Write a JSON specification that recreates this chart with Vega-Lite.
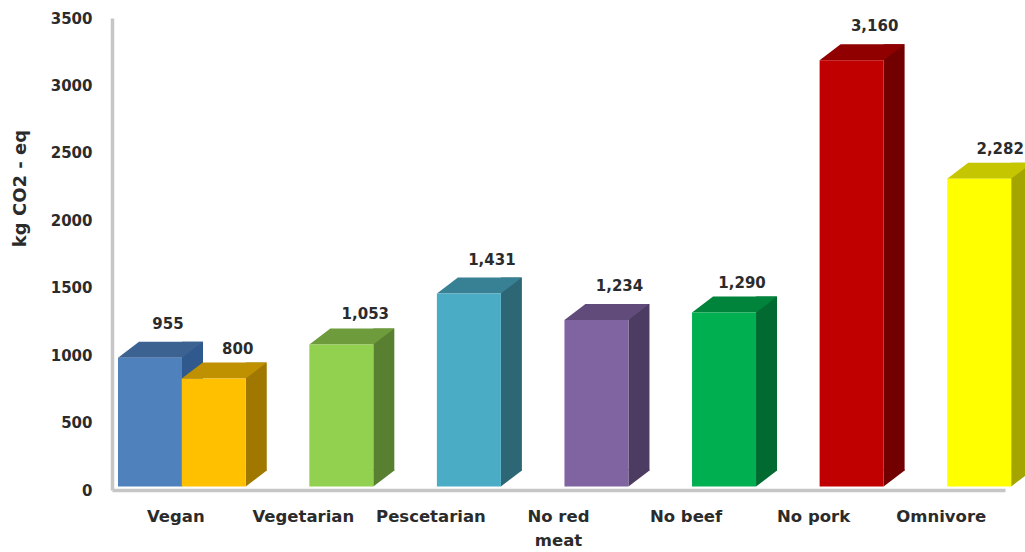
{
  "$schema": "https://vega.github.io/schema/vega-lite/v6.json",
  "autosize": "none",
  "width": 893,
  "height": 472,
  "padding": {"left": 112, "top": 18, "right": 20, "bottom": 62},
  "background": "white",
  "config": {
    "view": {"stroke": null},
    "axis": {"grid": false, "ticks": false, "domainColor": "#c6c6c6", "domainWidth": 3.5, "labelColor": "#2b2b2b", "titleColor": "#2b2b2b", "labelFont": "DejaVu Sans", "titleFont": "DejaVu Sans"}
  },
  "datasets": {
    "bars": [
      {"diet": "Vegan", "group": "Vegan", "series": "A", "sideSlot": "A side", "value": 955},
      {"diet": "Vegan B", "group": "Vegan", "series": "B", "sideSlot": "B side", "value": 800},
      {"diet": "Vegetarian", "group": "Vegetarian", "series": "B", "sideSlot": "B side", "value": 1053},
      {"diet": "Pescetarian", "group": "Pescetarian", "series": "B", "sideSlot": "B side", "value": 1431},
      {"diet": "No red meat", "group": "No red meat", "series": "B", "sideSlot": "B side", "value": 1234},
      {"diet": "No beef", "group": "No beef", "series": "B", "sideSlot": "B side", "value": 1290},
      {"diet": "No pork", "group": "No pork", "series": "B", "sideSlot": "B side", "value": 3160},
      {"diet": "Omnivore", "group": "Omnivore", "series": "B", "sideSlot": "B side", "value": 2282}
    ]
  },
  "data": {"name": "bars"},
  "encoding": {
    "x": {
      "field": "group", "type": "nominal",
      "scale": {"domain": ["Vegan", "Vegetarian", "Pescetarian", "No red meat", "No beef", "No pork", "Omnivore"], "paddingInner": 0, "paddingOuter": 0},
      "axis": {"title": null, "labelAngle": 0, "labelFontSize": 16.5, "labelFontWeight": "bold", "labelPadding": 18, "labelLineHeight": 24, "labelExpr": "datum.label == 'No red meat' ? ['No red', 'meat'] : datum.label", "labelLimit": 200}
    },
    "xOffset": {"field": "series", "type": "nominal", "scale": {"domain": ["A", "slot1", "A side", "B", "slot2", "B side"], "range": [27.375, 154.875], "paddingInner": 0, "paddingOuter": 0}},
    "y": {
      "field": "value", "type": "quantitative",
      "scale": {"domain": [0, 3500], "nice": false},
      "axis": {"title": "kg CO2 - eq", "values": [0, 500, 1000, 1500, 2000, 2500, 3000, 3500], "format": "d", "labelFontSize": 15, "labelFontWeight": "bold", "labelPadding": 20, "titleFontSize": 18, "titleFontWeight": "bold", "titleX": -83, "titleY": 170}
    }
  },
  "layer": [
    {
      "mark": {"type": "bar", "width": 21, "yOffset": -19.5},
      "encoding": {
        "xOffset": {"field": "sideSlot", "type": "nominal", "scale": {"domain": ["A", "slot1", "A side", "B", "slot2", "B side"], "range": [27.375, 154.875], "paddingInner": 0, "paddingOuter": 0}},
        "color": {"field": "diet", "type": "nominal", "legend": null, "scale": {"domain": ["Vegan", "Vegan B", "Vegetarian", "Pescetarian", "No red meat", "No beef", "No pork", "Omnivore"], "range": ["#305a8e", "#a07800", "#588030", "#2d6776", "#4d3c61", "#006a30", "#730000", "#a5a500"]}}
      }
    },
    {
      "mark": {"type": "point", "filled": true, "opacity": 1, "size": 4, "yOffset": -3.5, "shape": "M32 0 L53 -16 L53 -17 L32 -17 Z"},
      "encoding": {
        "y": {"datum": 0},
        "color": {"field": "diet", "type": "nominal", "legend": null, "scale": {"domain": ["Vegan", "Vegan B", "Vegetarian", "Pescetarian", "No red meat", "No beef", "No pork", "Omnivore"], "range": ["#305a8e", "#a07800", "#588030", "#2d6776", "#4d3c61", "#006a30", "#730000", "#a5a500"]}}
      }
    },
    {
      "mark": {"type": "point", "filled": true, "opacity": 1, "size": 4, "yOffset": -3.5, "shape": "M-32 0 L32 0 L53 -16 L-11 -16 Z"},
      "encoding": {"color": {"field": "diet", "type": "nominal", "legend": null, "scale": {"domain": ["Vegan", "Vegan B", "Vegetarian", "Pescetarian", "No red meat", "No beef", "No pork", "Omnivore"], "range": ["#3c6292", "#bf9000", "#6e9c3c", "#388194", "#604b7a", "#00843c", "#900000", "#c6c600"]}}}
    },
    {
      "mark": {"type": "bar", "width": 64, "yOffset": -3.5},
      "encoding": {"color": {"field": "diet", "type": "nominal", "legend": null, "scale": {"domain": ["Vegan", "Vegan B", "Vegetarian", "Pescetarian", "No red meat", "No beef", "No pork", "Omnivore"], "range": ["#4f81bd", "#ffc000", "#92d050", "#4bacc6", "#8064a2", "#00b050", "#c00000", "#ffff00"]}}}
    },
    {
      "transform": [{"filter": "datum.series == 'A'"}],
      "mark": {"type": "text", "dx": 18, "dy": -37.5, "baseline": "middle", "font": "DejaVu Sans", "fontWeight": "bold", "fontSize": 15, "color": "#2b2b2b"},
      "encoding": {"text": {"field": "value", "type": "quantitative", "format": ","}}
    },
    {
      "transform": [{"filter": {"field": "value", "oneOf": [1431, 1234, 3160]}}],
      "mark": {"type": "text", "dx": 23, "dy": -37.5, "baseline": "middle", "font": "DejaVu Sans", "fontWeight": "bold", "fontSize": 15, "color": "#2b2b2b"},
      "encoding": {"text": {"field": "value", "type": "quantitative", "format": ","}}
    },
    {
      "transform": [{"filter": {"field": "value", "oneOf": [800, 1053]}}],
      "mark": {"type": "text", "dx": 24, "dy": -33.5, "baseline": "middle", "font": "DejaVu Sans", "fontWeight": "bold", "fontSize": 15, "color": "#2b2b2b"},
      "encoding": {"text": {"field": "value", "type": "quantitative", "format": ","}}
    },
    {
      "transform": [{"filter": {"field": "value", "oneOf": [1290]}}],
      "mark": {"type": "text", "dx": 18, "dy": -33.5, "baseline": "middle", "font": "DejaVu Sans", "fontWeight": "bold", "fontSize": 15, "color": "#2b2b2b"},
      "encoding": {"text": {"field": "value", "type": "quantitative", "format": ","}}
    },
    {
      "transform": [{"filter": {"field": "value", "oneOf": [2282]}}],
      "mark": {"type": "text", "dx": 21, "dy": -33.5, "baseline": "middle", "font": "DejaVu Sans", "fontWeight": "bold", "fontSize": 15, "color": "#2b2b2b"},
      "encoding": {"text": {"field": "value", "type": "quantitative", "format": ","}}
    }
  ],
  "resolve": {"scale": {"color": "independent"}}
}
